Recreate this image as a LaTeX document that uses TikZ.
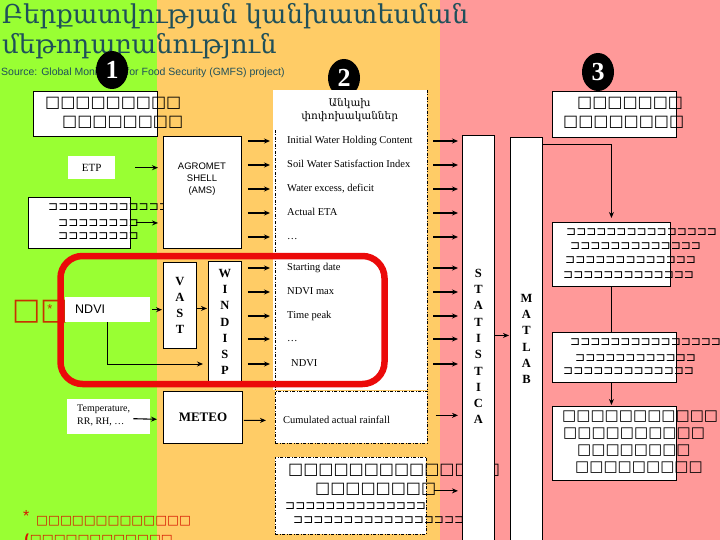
\documentclass[tikz,border=0pt]{standalone}
\usepackage{fontspec}
\setmainfont{Liberation Serif}
\newfontfamily\sansfont{Liberation Sans}
\newfontfamily\armfont{DejaVu Serif}
\newfontfamily\tofufont{DejaVu Sans}
\usetikzlibrary{arrows.meta, positioning, calc, shapes.geometric}

\definecolor{bggreen}{RGB}{153,255,51}
\definecolor{bgorange}{RGB}{255,204,102}
\definecolor{bgpink}{RGB}{255,153,153}
\definecolor{titleteal}{RGB}{31,80,90}
\definecolor{hired}{RGB}{235,10,10}
\definecolor{notered}{RGB}{215,20,0}
\definecolor{markred}{RGB}{200,50,0}

\begin{document}
\begin{tikzpicture}[
    x=1pt, y=-1pt,
    >={Stealth[length=6pt,width=5pt]},
    box/.style={draw, fill=white, line width=0.9pt, inner sep=0pt},
    plain/.style={fill=white, inner sep=0pt},
    dbox/.style={draw, fill=white, line width=0.7pt, dash pattern=on 3pt off 1.5pt on 1pt off 1.5pt, inner sep=0pt},
    ddash/.style={line width=0.7pt, dash pattern=on 3pt off 1.5pt on 1pt off 1.5pt},
    num/.style={ellipse, fill=black, text=white, inner sep=0pt, minimum width=32pt, minimum height=38pt, font=\bfseries\fontsize{26}{26}\selectfont},
    lbl/.style={anchor=west, inner sep=0pt, text height=7.5pt, text depth=2.5pt, font=\fontsize{10.5}{12}\selectfont},
    vert/.style={align=center, inner sep=0pt, font=\bfseries\fontsize{12.5}{16.3}\selectfont},
    tofu/.style={anchor=west, inner sep=0pt, font=\tofufont\fontsize{16}{16}\selectfont},
    tofus/.style={anchor=west, inner sep=0pt, font=\tofufont\fontsize{12}{12}\selectfont},
    arr/.style={->, line width=1.1pt},
]
\useasboundingbox (0,0) rectangle (720,540);
\clip (0,0) rectangle (720,540);

% Background bands
\fill[bggreen] (0,0) rectangle (157,540);
\fill[bgorange] (157,0) rectangle (440,540);
\fill[bgpink] (440,0) rectangle (720,540);

% Title
\node[anchor=west, inner sep=0pt, text=titleteal, font=\armfont\fontsize{26}{26}\selectfont] (title1) at (2,16) {Բերքատվության կանխատեսման};
\node[anchor=west, inner sep=0pt, text=titleteal, font=\armfont\fontsize{26}{26}\selectfont] (title2) at (2,46) {մեթոդաբանություն};
\node[anchor=west, inner sep=0pt, text=titleteal, font=\sansfont\fontsize{10.5}{10.5}\selectfont] (src) at (1,73) {Source: Global Monitoring for Food Security (GMFS) project)};

\node[num] (n1) at (112,70) {1};
\node[num] (n2) at (344,78) {2};
\node[num] (n3) at (598,72) {3};

% Column 1
\node[box, anchor=north west, minimum width=124pt, minimum height=45pt] (obs) at (33,91) {};
\node[tofu] (obs1) at (45,103) {□□□□□□□□□};
\node[tofu] (obs2) at (62,122) {□□□□□□□□};

\node[plain, anchor=north west, minimum width=47pt, minimum height=23pt, font=\fontsize{11}{11}\selectfont] (etp) at (68,156) {ETP};

\node[box, anchor=north west, minimum width=102pt, minimum height=51pt] (soil) at (28,197) {};
\node[tofus] (soil1) at (48,207) {⊐⊐⊐⊐⊐⊐⊐⊐⊐⊐⊐⊐⊐};
\node[tofus] (soil2) at (58,223) {⊐⊐⊐⊐⊐⊐⊐⊐};
\node[tofus] (soil3) at (58,236) {⊐⊐⊐⊐⊐⊐⊐⊐};

\node[box, anchor=north west, minimum width=78pt, minimum height=112pt] (ams) at (163,136) {};
\node[align=center, inner sep=0pt, font=\sansfont\fontsize{9.5}{12}\selectfont] (amstxt) at (202,179) {AGROMET\\SHELL\\(AMS)};

\node[anchor=west, inner sep=0pt, text=markred, font=\tofufont\fontsize{30}{30}\selectfont] (mark) at (12,312) {□□};
\node[inner sep=0pt, text=markred, font=\sansfont\fontsize{13}{13}\selectfont] (star) at (50,309) {*};
\node[plain, anchor=north west, minimum width=85pt, minimum height=25pt] (ndvi) at (65,297) {};
\node[anchor=west, inner sep=0pt, font=\sansfont\fontsize{12.5}{12.5}\selectfont] (ndvitxt) at (75,309.5) {NDVI};

\node[box, anchor=north west, minimum width=33pt, minimum height=86pt] (vast) at (163,262) {};
\node[vert] at (vast.center) {V\\A\\S\\T};
\node[box, anchor=north west, minimum width=33pt, minimum height=121pt] (windisp) at (208,261) {};
\node[vert] at (windisp.center) {W\\I\\N\\D\\I\\S\\P};

\node[plain, anchor=north west, minimum width=83pt, minimum height=35pt] (temp) at (67,399) {};
\node[anchor=north west, inner sep=0pt, align=left, font=\fontsize{10}{13}\selectfont] (temptxt) at (77,405) {Temperature,\\RR, RH, \dots};
\node[box, anchor=north west, minimum width=79pt, minimum height=52pt, font=\bfseries\fontsize{13}{13}\selectfont] (meteo) at (163,391) {METEO};

\node[anchor=west, inner sep=0pt, text=notered, font=\sansfont\fontsize{16}{16}\selectfont] (notestar) at (23,516) {*};
\node[anchor=west, inner sep=0pt, text=notered, font=\tofufont\bfseries\fontsize{12.6}{12.6}\selectfont] (note1) at (36,521) {□□□□□□□□□□□□□};
\node[anchor=west, inner sep=0pt, text=notered, font=\tofufont\bfseries\fontsize{12.6}{12.6}\selectfont] (note2) at (24,540) {(□□□□□□□□□□□□};

% Column 2
\node[plain, anchor=north west, minimum width=154pt, minimum height=300pt] (panel) at (273,90) {};
\draw[ddash] (panel.north east) -- (panel.south east);
\draw[ddash] ($(panel.north west)+(2,40)$) -- ($(panel.south west)+(2,0)$);
\node[plain, anchor=north west, minimum width=153pt, minimum height=40pt, align=center, font=\armfont\fontsize{10.5}{13}\selectfont] (indep) at (273,90) {Անկախ\\փոփոխականներ};

\node[lbl] (iwhc) at (287,141) {Initial Water Holding Content};
\node[lbl] (swsi) at (287,165) {Soil Water Satisfaction Index};
\node[lbl] (wexc) at (287,189) {Water excess, deficit};
\node[lbl] (aeta) at (287,213) {Actual ETA};
\node[lbl] (dotsa) at (287,237) {\dots};
\node[lbl] (sdate) at (287,268) {Starting date};
\node[lbl] (nmax) at (287,292) {NDVI max};
\node[lbl] (tpeak) at (287,316) {Time peak};
\node[lbl] (dotsb) at (287,339) {\dots};
\node[lbl] (ndvio) at (291,364) {NDVI};

\node[dbox, anchor=north west, minimum width=152pt, minimum height=52pt] (cum) at (275,391) {};
\node[lbl] (cumtxt) at (283,421) {Cumulated actual rainfall};

\node[dbox, anchor=north west, minimum width=151pt, minimum height=77pt] (low) at (275,457) {};
\node[tofu] (low1) at (288,470) {□□□□□□□□□□□□□□};
\node[tofu] (low2) at (315,489) {□□□□□□□□};
\node[tofus] (low3) at (285,506) {⊐⊐⊐⊐⊐⊐⊐⊐⊐⊐⊐⊐⊐⊐};
\node[tofus] (low4) at (293,520) {⊐⊐⊐⊐⊐⊐⊐⊐⊐⊐⊐⊐⊐⊐⊐⊐⊐⊐};

% Column 3
\node[box, anchor=north west, minimum width=32pt, minimum height=410pt] (stat) at (462,135) {};
\node[vert] at ($(stat.north)+(0,211.5)$) {S\\T\\A\\T\\I\\S\\T\\I\\C\\A};
\node[box, anchor=north west, minimum width=32pt, minimum height=408pt] (matlab) at (510,137) {};
\node[vert] at ($(matlab.north)+(0,202)$) {M\\A\\T\\L\\A\\B};

\node[box, anchor=north west, minimum width=124pt, minimum height=46pt] (c1) at (552,91) {};
\node[tofu] (c1a) at (577,103) {□□□□□□□};
\node[tofu] (c1b) at (563,122) {□□□□□□□□};
\node[box, anchor=north west, minimum width=118pt, minimum height=64pt] (c2) at (552,222) {};
\node[tofus] (c2a) at (566,232) {⊐⊐⊐⊐⊐⊐⊐⊐⊐⊐⊐⊐⊐⊐⊐};
\node[tofus] (c2b) at (570,246) {⊐⊐⊐⊐⊐⊐⊐⊐⊐⊐⊐⊐⊐};
\node[tofus] (c2c) at (565,260) {⊐⊐⊐⊐⊐⊐⊐⊐⊐⊐⊐⊐⊐};
\node[tofus] (c2d) at (563,275) {⊐⊐⊐⊐⊐⊐⊐⊐⊐⊐⊐⊐⊐};
\node[box, anchor=north west, minimum width=124pt, minimum height=50pt] (c3) at (552,332) {};
\node[tofus] (c3a) at (570,342) {⊐⊐⊐⊐⊐⊐⊐⊐⊐⊐⊐⊐⊐⊐⊐};
\node[tofus] (c3b) at (575,358) {⊐⊐⊐⊐⊐⊐⊐⊐⊐⊐⊐⊐};
\node[tofus] (c3c) at (563,371) {⊐⊐⊐⊐⊐⊐⊐⊐⊐⊐⊐⊐⊐};
\node[box, anchor=north west, minimum width=124pt, minimum height=74pt] (c4) at (552,406) {};
\node[tofu, font=\tofufont\fontsize{15}{15}\selectfont] (c4a) at (562,417) {□□□□□□□□□□□};
\node[tofu, font=\tofufont\fontsize{15}{15}\selectfont] (c4b) at (563,434) {□□□□□□□□□□};
\node[tofu, font=\tofufont\fontsize{15}{15}\selectfont] (c4c) at (577,451) {□□□□□□□□};
\node[tofu, font=\tofufont\fontsize{15}{15}\selectfont] (c4d) at (575,468) {□□□□□□□□□};

% Connectors
\draw[arr, shorten <=20pt, shorten >=5pt] (etp.east) -- (ams.west |- etp.east);
\draw[arr, shorten <=5pt, shorten >=5pt] (soil.east) -- (ams.west |- soil.east);
\foreach \r in {iwhc,swsi,wexc,aeta,dotsa}
    \draw[arr, shorten <=6pt, shorten >=3pt] (ams.east |- \r.west) -- (panel.west |- \r.west);
\foreach \r in {sdate,nmax,tpeak,dotsb,ndvio}
    \draw[arr, shorten <=6pt, shorten >=3pt] (windisp.east |- \r.west) -- (panel.west |- \r.west);
\foreach \r in {iwhc,swsi,wexc,aeta,dotsa,sdate,nmax,tpeak,dotsb,ndvio}
    \draw[arr, shorten <=6pt, shorten >=4pt] (panel.east |- \r.west) -- (stat.west |- \r.west);
\draw[arr, shorten <=2pt, shorten >=1pt] (ndvi.east) -- (vast.west |- ndvi.east);
\draw[arr, shorten >=1pt] ($(vast.east)+(0,3)$) -- ($(windisp.west |- vast.east)+(0,3)$);
\draw[arr, line width=0.9pt, shorten >=5pt] (ndvi.south) |- (windisp.west |- ndvio.west);
\draw[arr, shorten >=6pt] ($(temp.east)+(-17,2)$) -- ($(meteo.west)+(0,2)$);
\draw[arr, shorten <=1pt, shorten >=9pt] ($(meteo.east)+(0,3)$) -- ($(cum.west)+(0,3)$);
\draw[arr, shorten <=8pt, shorten >=4pt] ($(cum.east)+(0,-2)$) -- ($(stat.west |- cum.east)+(0,-2)$);
\draw[arr, shorten <=7pt, shorten >=4pt] ($(low.east)+(0,-5)$) -- ($(stat.west |- low.east)+(0,-5)$);
\draw[arr, shorten >=1pt] ($(stat.east)+(0,-5)$) -- ($(matlab.west)+(0,-6)$);
\draw[arr, line width=0.9pt, shorten >=4pt] ($(matlab.north east)+(0,7)$) -| (c2.north);
\draw[line width=0.9pt] (c2.south) -- (c2.south |- c3.north);
\draw[arr, line width=0.9pt, shorten >=1pt] (c2.south |- c3.south) -- (c2.south |- c4.north);

% Highlight round the NDVI part
\draw[hired, line width=6.5pt, rounded corners=22pt] (60.5,256) rectangle (384.5,384);

\end{tikzpicture}
\end{document}
